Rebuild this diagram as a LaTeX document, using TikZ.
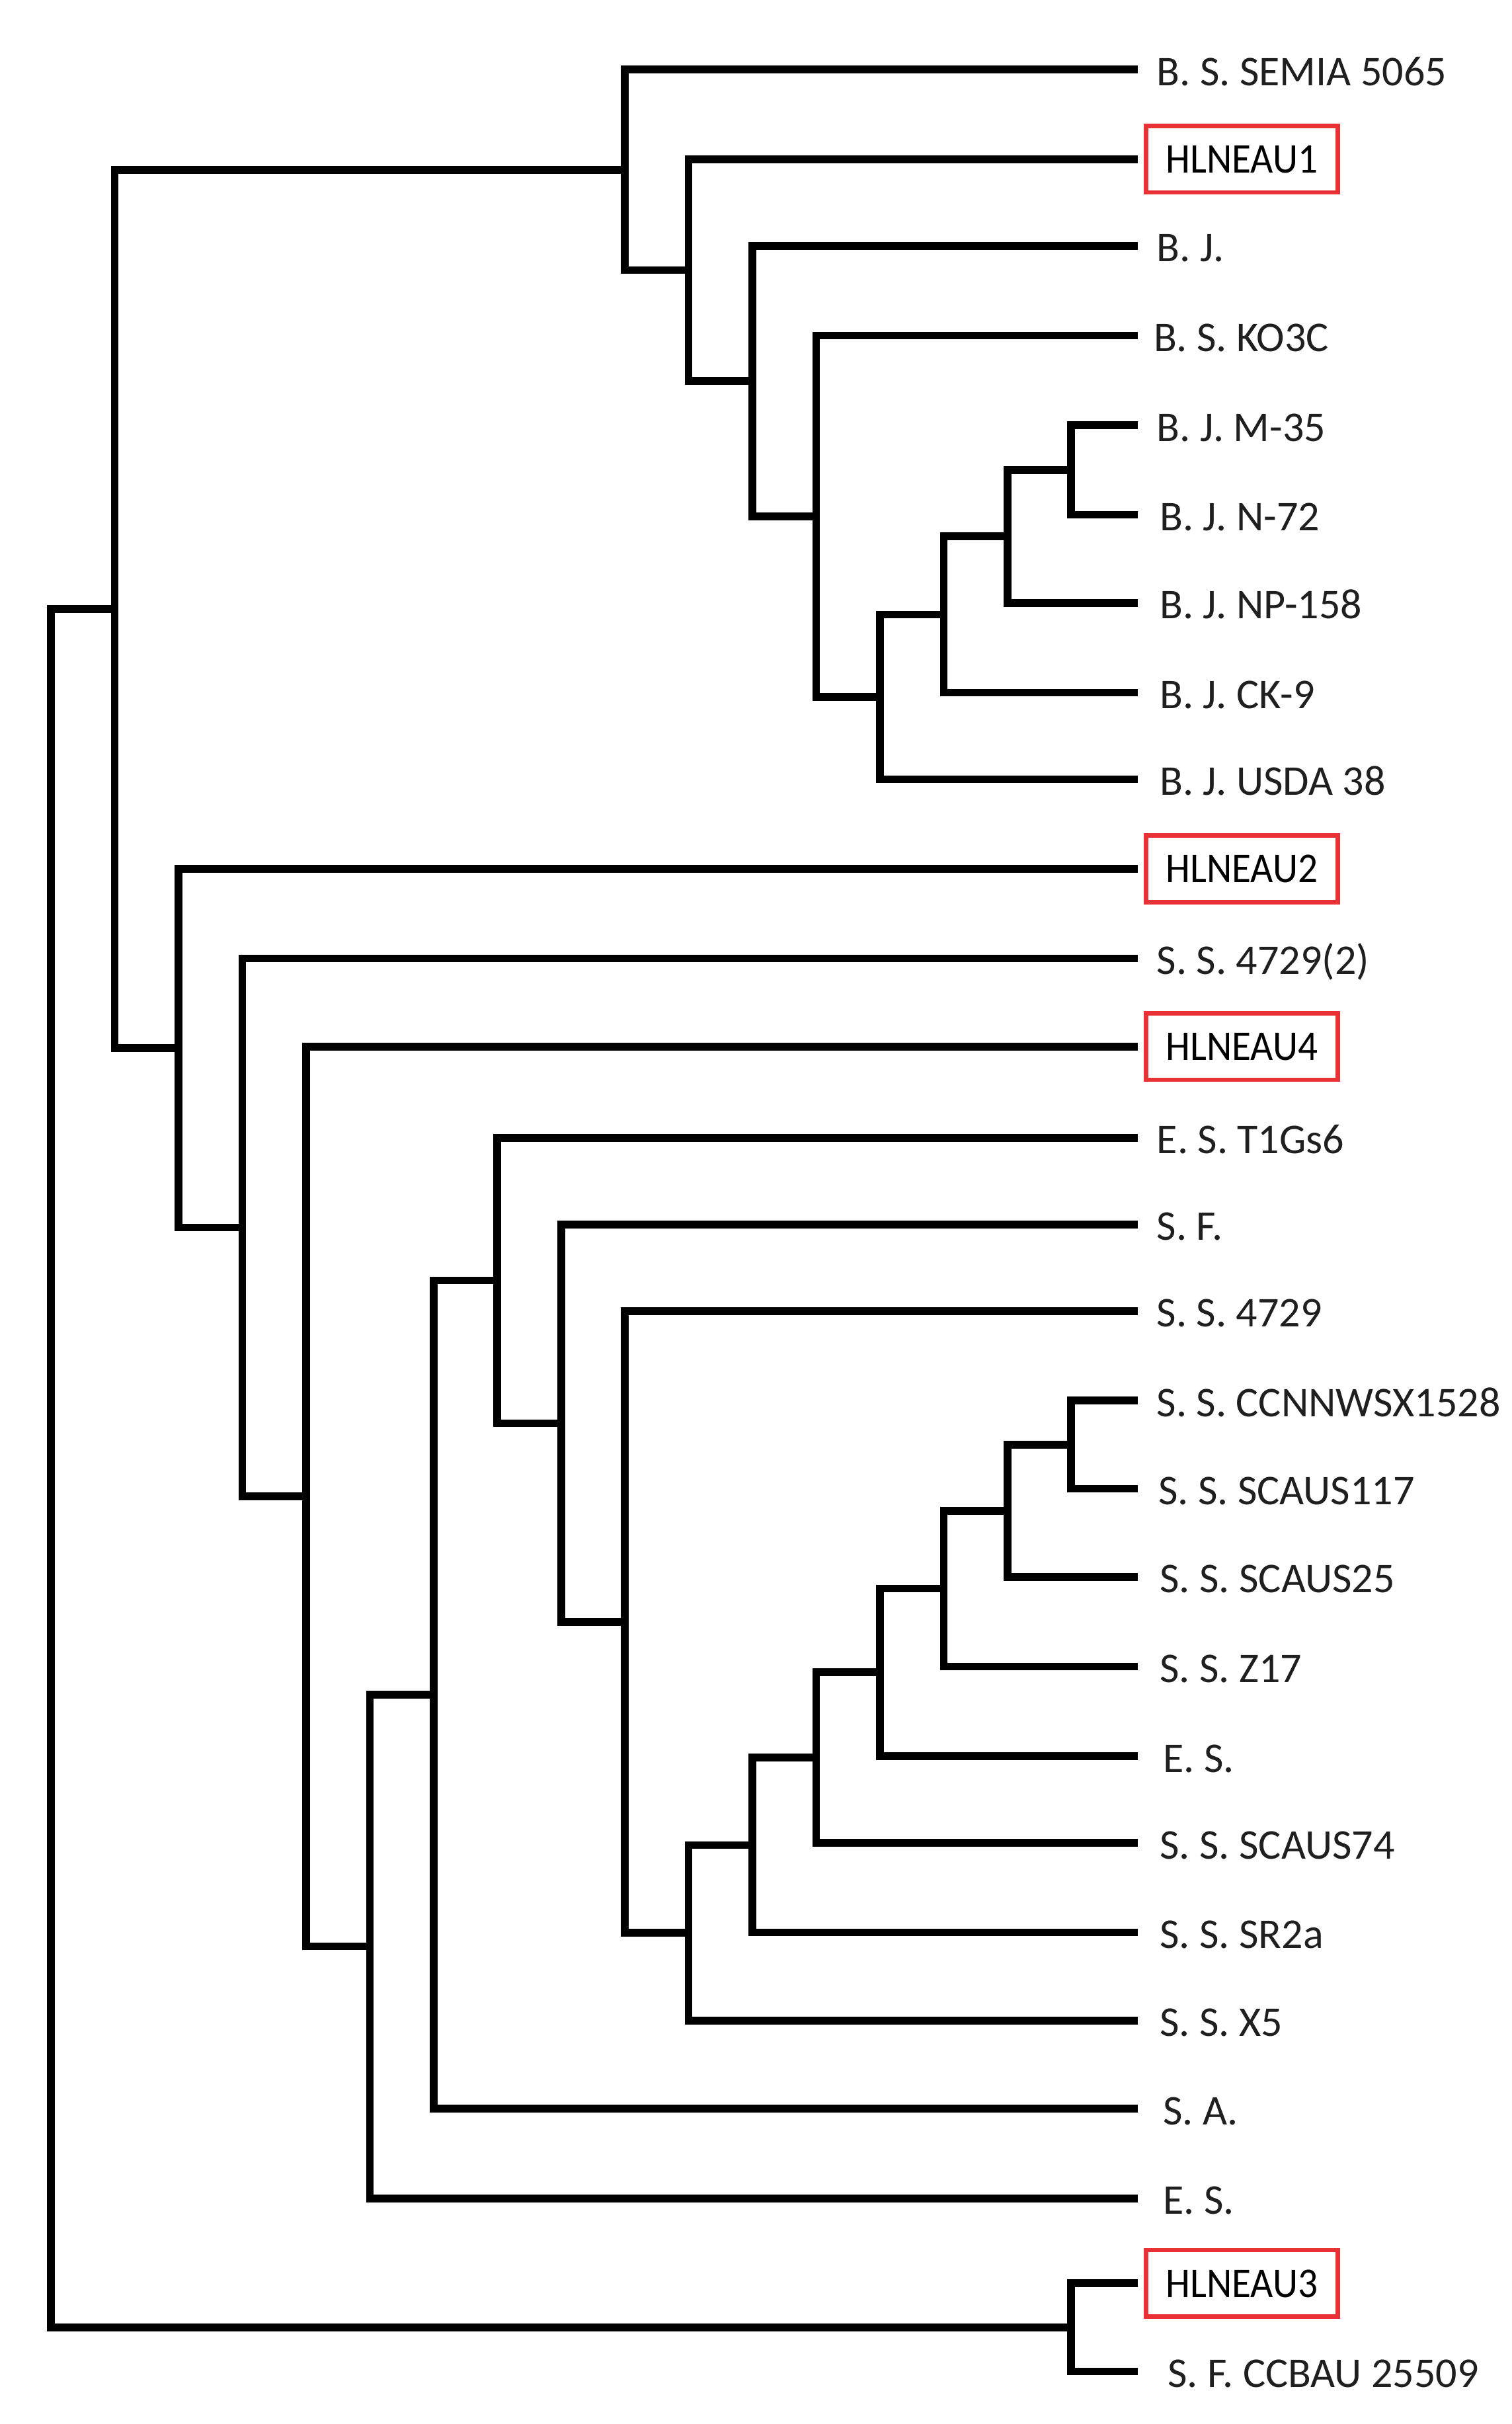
\documentclass[tikz,border=0pt]{standalone}
\usepackage{fontspec}
\usepackage{graphicx}
\setmainfont{Carlito}
\definecolor{boxred}{RGB}{232,50,54}
\begin{document}
\begin{tikzpicture}[x=0.5pt,y=-0.5pt,
  branch/.style={line width=2.5pt, line cap=rect, black},
  lbl/.style={anchor=base west, inner sep=0pt, text=black!88, font=\fontsize{13.7pt}{16pt}\selectfont},
  hl/.style={draw=boxred, line width=1.4pt, minimum width=62pt, minimum height=21.5pt,
    inner sep=0pt, anchor=west, text depth=0pt, text=black, font=\fontsize{13.7pt}{16pt}\selectfont}]
\useasboundingbox (0,0) rectangle (978,1568);
% leaf line ends
\foreach \n/\y in {0/45,1/103,2/159,3/217,4/275,5/333,6/390,7/448,8/504,9/562,10/620,11/677,12/736,13/792,14/848,15/906,16/963,17/1020,18/1078,19/1136,20/1192,21/1250,22/1307,23/1364,24/1422,25/1477,26/1534}
  {\coordinate (e\n) at (733.5,\y);}
% labels
\node[lbl] (t0) at (748,55.3) {B. S. SEMIA 5065};
\node[hl] (t1) at (740,103) {\scalebox{0.925}[1]{HLNEAU1}};
\node[lbl] (t2) at (748,169.3) {B. J.};
\node[lbl] (t3) at (746,227.3) {B. S. KO3C};
\node[lbl] (t4) at (748,285.3) {B. J. M-35};
\node[lbl] (t5) at (750,343.3) {B. J. N-72};
\node[lbl] (t6) at (750,400.3) {B. J. NP-158};
\node[lbl] (t7) at (750,458.3) {B. J. CK-9};
\node[lbl] (t8) at (750,514.3) {B. J. USDA 38};
\node[hl] (t9) at (740,562) {\scalebox{0.925}[1]{HLNEAU2}};
\node[lbl] (t10) at (748,630.3) {S. S. 4729(2)};
\node[hl] (t11) at (740,677) {\scalebox{0.925}[1]{HLNEAU4}};
\node[lbl] (t12) at (748,746.3) {E. S. T1Gs6};
\node[lbl] (t13) at (748,802.3) {S. F.};
\node[lbl] (t14) at (748,858.3) {S. S. 4729};
\node[lbl] (t15) at (748,916.3) {S. S. CCNNWSX1528};
\node[lbl] (t16) at (749,973.3) {S. S. SCAUS117};
\node[lbl] (t17) at (750,1030.3) {S. S. SCAUS25};
\node[lbl] (t18) at (750,1088.3) {S. S. Z17};
\node[lbl] (t19) at (752,1146.3) {E. S.};
\node[lbl] (t20) at (750,1202.3) {S. S. SCAUS74};
\node[lbl] (t21) at (750,1260.3) {S. S. SR2a};
\node[lbl] (t22) at (750,1317.3) {S. S. X5};
\node[lbl] (t23) at (752,1374.3) {S. A.};
\node[lbl] (t24) at (752,1432.3) {E. S.};
\node[hl] (t25) at (740,1477) {\scalebox{0.925}[1]{HLNEAU3}};
\node[lbl] (t26) at (755,1544.3) {S. F. CCBAU 25509};
% internal nodes: upper clade
\coordinate (a16) at (693,304);
\coordinate (a15) at (651.75,347);
\coordinate (a14) at (610.5,397.5);
\coordinate (a13) at (569.25,450.75);
\coordinate (a12) at (528,333.9);
\coordinate (a11) at (486.75,246.4);
\coordinate (a10) at (445.5,174.7);
\coordinate (a9) at (404.25,109.9);
% lower clade
\coordinate (b16) at (693,934.5);
\coordinate (b15) at (651.75,977.25);
\coordinate (b14) at (610.5,1027.6);
\coordinate (b13) at (569.25,1081.8);
\coordinate (b12) at (528,1136.9);
\coordinate (b11) at (486.75,1193.5);
\coordinate (b10) at (445.5,1250.2);
\coordinate (b9) at (404.25,1049.1);
\coordinate (b8) at (363,920.6);
\coordinate (b7) at (321.75,828.3);
\coordinate (b6) at (280.5,1096.1);
\coordinate (b5) at (239.25,1259);
\coordinate (b4) at (198,968);
\coordinate (b3) at (156.75,794);
\coordinate (b2) at (115.5,678);
\coordinate (c1) at (74.25,394);
\coordinate (c16) at (693,1505.5);
\coordinate (root) at (33,949.7);
% branches
\draw[branch] (a16) |- (e4);  \draw[branch] (a16) |- (e5);
\draw[branch] (a15) |- (a16); \draw[branch] (a15) |- (e6);
\draw[branch] (a14) |- (a15); \draw[branch] (a14) |- (e7);
\draw[branch] (a13) |- (a14); \draw[branch] (a13) |- (e8);
\draw[branch] (a12) |- (e3);  \draw[branch] (a12) |- (a13);
\draw[branch] (a11) |- (e2);  \draw[branch] (a11) |- (a12);
\draw[branch] (a10) |- (e1);  \draw[branch] (a10) |- (a11);
\draw[branch] (a9) |- (e0);   \draw[branch] (a9) |- (a10);
\draw[branch] (b16) |- (e15); \draw[branch] (b16) |- (e16);
\draw[branch] (b15) |- (b16); \draw[branch] (b15) |- (e17);
\draw[branch] (b14) |- (b15); \draw[branch] (b14) |- (e18);
\draw[branch] (b13) |- (b14); \draw[branch] (b13) |- (e19);
\draw[branch] (b12) |- (b13); \draw[branch] (b12) |- (e20);
\draw[branch] (b11) |- (b12); \draw[branch] (b11) |- (e21);
\draw[branch] (b10) |- (b11); \draw[branch] (b10) |- (e22);
\draw[branch] (b9) |- (e14);  \draw[branch] (b9) |- (b10);
\draw[branch] (b8) |- (e13);  \draw[branch] (b8) |- (b9);
\draw[branch] (b7) |- (e12);  \draw[branch] (b7) |- (b8);
\draw[branch] (b6) |- (b7);   \draw[branch] (b6) |- (e23);
\draw[branch] (b5) |- (b6);   \draw[branch] (b5) |- (e24);
\draw[branch] (b4) |- (e11);  \draw[branch] (b4) |- (b5);
\draw[branch] (b3) |- (e10);  \draw[branch] (b3) |- (b4);
\draw[branch] (b2) |- (e9);   \draw[branch] (b2) |- (b3);
\draw[branch] (c1) |- (a9);   \draw[branch] (c1) |- (b2);
\draw[branch] (c16) |- (e25); \draw[branch] (c16) |- (e26);
\draw[branch] (root) |- (c1); \draw[branch] (root) |- (c16);
\end{tikzpicture}
\end{document}
